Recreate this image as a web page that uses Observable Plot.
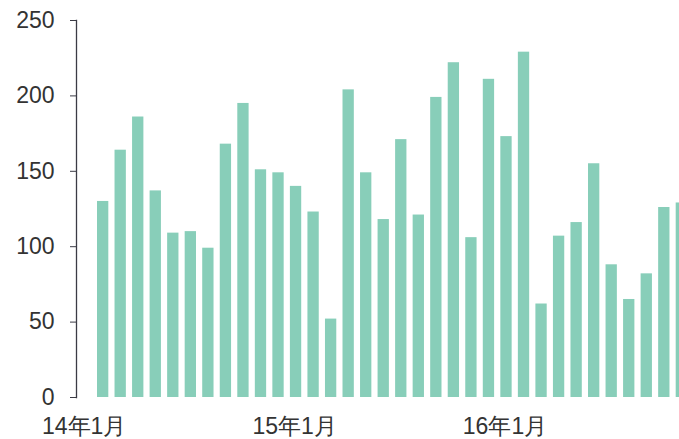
<!DOCTYPE html>
<html><head><meta charset="utf-8">
<script src="https://cdn.jsdelivr.net/npm/d3@7"></script>
<script src="https://cdn.jsdelivr.net/npm/@observablehq/plot@0.6"></script>
<style>body{margin:0;background:#fff;overflow:hidden}</style>
</head><body><div id="chart"></div>
<script>
const months = [
  "14年1月","14年2月","14年3月","14年4月","14年5月","14年6月","14年7月","14年8月","14年9月","14年10月","14年11月","14年12月",
  "15年1月","15年2月","15年3月","15年4月","15年5月","15年6月","15年7月","15年8月","15年9月","15年10月","15年11月","15年12月",
  "16年1月","16年2月","16年3月","16年4月","16年5月","16年6月","16年7月","16年8月","16年9月","16年10月"
];
const values = [
  130, 164, 186, 137, 109, 110, 99, 168, 195, 151, 149, 140,
  123, 52, 204, 149, 118, 171, 121, 199, 222, 106, 211, 173,
  229, 62, 107, 116, 155, 88, 65, 82, 126, 129
];
const xTicks = ["14年1月","15年1月","16年1月"];
const yTicks = [0, 50, 100, 150, 200, 250];

const data = months.map((m, i) => ({month: m, value: values[i]}));

const chart = Plot.plot({
  width: 679, height: 439,
  marginTop: 20, marginBottom: 42, marginLeft: 76, marginRight: 0,
  style: {fontFamily: "'Liberation Sans', Arial, sans-serif", fontSize: "23px", color: "#333", background: "#fff"},
  x: {type: "band", domain: months, range: [97, 687], paddingInner: 0.355, paddingOuter: 0, align: 0, round: false, axis: null},
  y: {domain: [0, 250], axis: null},
  marks: [
    Plot.barY(data, {x: "month", y: "value", fill: "#88ceb9"}),
    Plot.axisY({ticks: yTicks, tickSize: 6, tickPadding: 16, stroke: "#3b3b45", fill: "#333", label: null}),
    Plot.axisX({ticks: xTicks, tickSize: 0, tickPadding: 20, dx: -19, fill: "#333", label: null}),
    Plot.frame({anchor: "left", stroke: "#3b3b45", strokeWidth: 1.3})
  ]
});
document.getElementById("chart").append(chart);
</script>
</body></html>
